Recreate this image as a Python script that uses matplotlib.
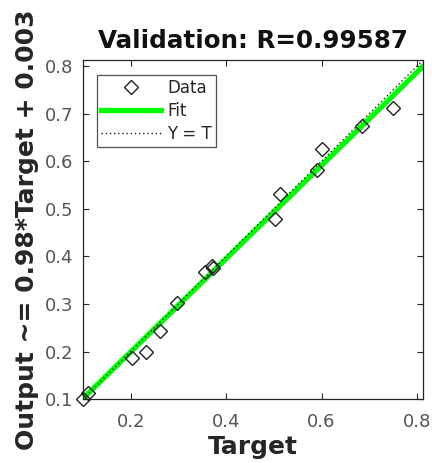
import matplotlib
matplotlib.use("Agg")
import matplotlib.pyplot as plt
import numpy as np

# Data
targets = [0.101, 0.111, 0.203, 0.233, 0.261, 0.298, 0.355, 0.371, 0.373,
           0.503, 0.514, 0.590, 0.601, 0.684, 0.749]
outputs = [0.100, 0.112, 0.187, 0.199, 0.243, 0.303, 0.368, 0.380, 0.375,
           0.479, 0.532, 0.582, 0.625, 0.674, 0.711]
fit_slope = 0.98
fit_intercept = 0.003
r_value = 0.99587
axis_limits = [0.1, 0.8125]
x_ticks = [0.2, 0.4, 0.6, 0.8]
y_ticks = [0.1, 0.2, 0.3, 0.4, 0.5, 0.6, 0.7, 0.8]

plt.rcParams['font.family'] = ['DejaVu Sans']

fig = plt.figure(figsize=(4.32, 4.63), dpi=100)
ax = fig.add_axes([0.192, 0.138, 0.787, 0.732])

lim = np.array(axis_limits)
ax.plot(targets, outputs, linestyle='none', marker='D', markersize=7.2,
        markerfacecolor='none', markeredgecolor='#222222', markeredgewidth=1.0,
        label='Data', zorder=3, clip_on=False)
ax.plot(lim, fit_slope * lim + fit_intercept, color='#00ff00', linewidth=3.8,
        label='Fit', zorder=2)
ax.plot(lim, lim, color='#222222', linestyle=(0, (1, 2)), linewidth=1.0,
        label='Y = T', zorder=2.5)

ax.set_xlim(lim)
ax.set_ylim(lim)
ax.set_xticks(x_ticks)
ax.set_yticks(y_ticks)
ax.set_xticklabels([f"{v:g}" for v in x_ticks])
ax.set_yticklabels([f"{v:g}" for v in y_ticks])

ax.tick_params(direction='in', length=4, width=0.8, top=True, right=True,
               labelsize=13, colors='#262626', labelcolor='#555555', pad=7)
ax.tick_params(axis='x', pad=10)
for s in ax.spines.values():
    s.set_color('#262626')
    s.set_linewidth(0.9)

ax.set_title(f"Validation: R={r_value}", fontsize=17.7, fontweight='bold',
             color='#111111', pad=9)
ax.set_xlabel("Target", fontsize=18, fontweight='bold', color='#262626', labelpad=3)
ax.set_ylabel(f"Output ~= {fit_slope}*Target + {fit_intercept}", fontsize=18,
              fontweight='bold', color='#262626', labelpad=4)

leg = ax.legend(loc='upper left', bbox_to_anchor=(0.041, 0.956), fontsize=12,
                frameon=True, fancybox=False, edgecolor='#262626',
                handlelength=3.6, handletextpad=0.35, labelspacing=0.3,
                borderpad=0.25, borderaxespad=0)
leg.get_frame().set_linewidth(0.9)
for t in leg.get_texts():
    t.set_color('#262626')

fig.savefig("out.png", dpi=100)
